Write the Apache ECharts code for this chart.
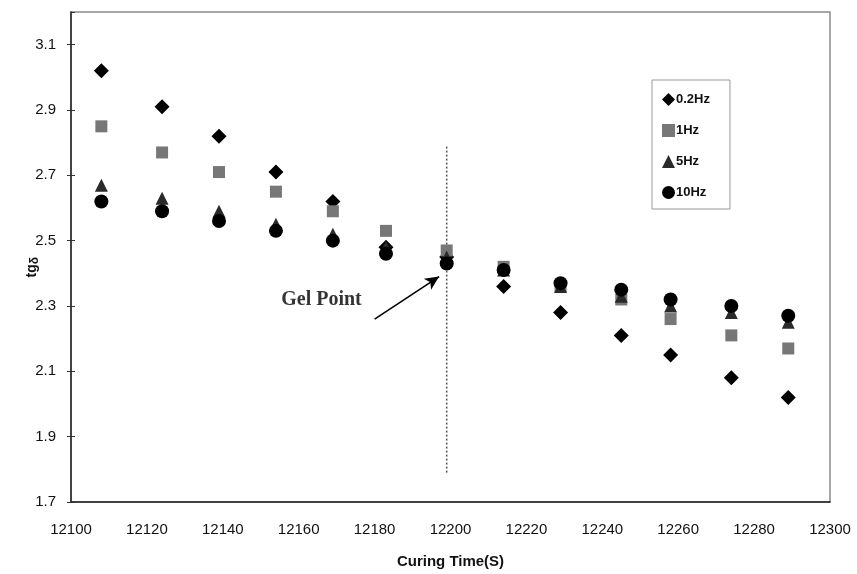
<!DOCTYPE html>
<html>
<head>
<meta charset="utf-8">
<script src="https://cdn.jsdelivr.net/npm/echarts@6/dist/echarts.min.js"></script>
<style>
  html, body { margin: 0; padding: 0; background: #fff; }
  #chart { width: 857px; height: 574px; }
</style>
</head>
<body>
<div id="chart"></div>
<script>
// Curing time (s) of each measurement
const curingTime = [12108, 12124, 12139, 12154, 12169, 12183, 12199, 12214, 12229, 12245, 12258, 12274, 12289];

// Loss tangent at each frequency
const tan02Hz = [3.02, 2.91, 2.82, 2.71, 2.62, 2.48, 2.45, 2.36, 2.28, 2.21, 2.15, 2.08, 2.02];
const tan1Hz  = [2.85, 2.77, 2.71, 2.65, 2.59, 2.53, 2.47, 2.42, 2.36, 2.32, 2.26, 2.21, 2.17];
const tan5Hz  = [2.67, 2.63, 2.59, 2.55, 2.52, 2.48, 2.45, 2.41, 2.36, 2.33, 2.30, 2.28, 2.25];
const tan10Hz = [2.62, 2.59, 2.56, 2.53, 2.50, 2.46, 2.43, 2.41, 2.37, 2.35, 2.32, 2.30, 2.27];

const seriesNames = ['0.2Hz', '1Hz', '5Hz', '10Hz'];
const yTicks = [1.7, 1.9, 2.1, 2.3, 2.5, 2.7, 2.9, 3.1];

// Gel point marker: vertical dotted line and pointing arrow
const gelTime = 12199;
const gelLineRange = [1.79, 2.79];
const gelArrowFrom = [12180, 2.26];
const gelArrowTo = [12197, 2.39];
const gelLabelAt = [12166, 2.32];

const pairs = arr => curingTime.map((t, i) => [t, arr[i]]);

const chart = echarts.init(document.getElementById('chart'), null, { renderer: 'canvas' });

const font = '"Liberation Sans", Arial, sans-serif';
const yLabelFmt = v => (yTicks.some(t => Math.abs(t - v) < 1e-6) ? v.toFixed(1) : '');

chart.setOption({
  animation: false,
  backgroundColor: '#fff',
  grid: { left: 71, right: 27, top: 12, bottom: 70, show: true, borderColor: '#8a8a8a', borderWidth: 1.5 },
  xAxis: {
    type: 'value', min: 12100, max: 12300, interval: 20,
    name: 'Curing Time(S)', nameLocation: 'middle', nameGap: 52,
    nameTextStyle: { fontFamily: font, fontSize: 15, fontWeight: 'bold', color: '#111' },
    axisLine: { lineStyle: { color: '#222', width: 1.5 } },
    axisTick: { show: false },
    splitLine: { show: false },
    axisLabel: { fontFamily: font, fontSize: 15, color: '#111', margin: 20, formatter: v => String(v) }
  },
  yAxis: [
    {
      type: 'value', min: 1.7, max: 3.2, interval: 0.2,
      axisLine: { lineStyle: { color: '#222', width: 1.5 } },
      axisTick: { show: true, inside: false, length: 4, lineStyle: { color: '#333' } },
      splitLine: { show: false },
      axisLabel: { fontFamily: font, fontSize: 15, color: '#111', margin: 15, showMaxLabel: false, formatter: yLabelFmt }
    },
    {
      // inner half of the cross-shaped tick marks
      type: 'value', min: 1.7, max: 3.2, interval: 0.2, position: 'left',
      axisLine: { show: false },
      axisTick: { show: true, inside: true, length: 4, lineStyle: { color: '#333' } },
      splitLine: { show: false },
      axisLabel: { show: false }
    }
  ],
  graphic: [
    {
      type: 'text', left: 25, top: 257,
      rotation: Math.PI / 2,
      style: {
        text: '{a|tg}{b|δ}',
        rich: {
          a: { fontFamily: font, fontSize: 14, fontWeight: 'bold', fill: '#111' },
          b: { fontFamily: font, fontSize: 12, fontWeight: 'bold', fill: '#111', padding: [5, 0, 0, 0] }
        }
      }
    }
  ],
  legend: {
    data: seriesNames,
    orient: 'vertical', left: 652, top: 80,
    itemWidth: 13, itemHeight: 13, itemGap: 18,
    padding: [13, 20, 10, 10],
    borderColor: '#999', borderWidth: 1,
    textStyle: { fontFamily: font, fontSize: 13, fontWeight: 'bold', color: '#111', padding: [0, 0, 0, -4] }
  },
  series: [
    {
      name: '0.2Hz', type: 'scatter', data: pairs(tan02Hz), z: 3,
      symbol: 'diamond', symbolSize: 15, itemStyle: { color: '#000', opacity: 1 }
    },
    {
      name: '1Hz', type: 'scatter', data: pairs(tan1Hz), z: 4,
      symbol: 'rect', symbolSize: 12, itemStyle: { color: '#777', opacity: 1 }
    },
    {
      name: '5Hz', type: 'scatter', data: pairs(tan5Hz), z: 5,
      symbol: 'triangle', symbolSize: 13, itemStyle: { color: '#2a2a2a', opacity: 1 }
    },
    {
      name: '10Hz', type: 'scatter', data: pairs(tan10Hz), z: 6,
      symbol: 'circle', symbolSize: 14, itemStyle: { color: '#000', opacity: 1 }
    },
    {
      name: 'gel', type: 'line', z: 2,
      data: gelLineRange.map(v => [gelTime, v]),
      symbol: 'none',
      lineStyle: { color: '#555', width: 1.5, type: [2, 2] },
      markLine: {
        silent: true, symbol: ['none', 'arrow'], symbolSize: [10, 14],
        lineStyle: { color: '#000', width: 1.6, type: 'solid' },
        label: { show: false },
        data: [[{ coord: gelArrowFrom }, { coord: gelArrowTo }]]
      }
    },
    {
      name: 'gelLabel', type: 'scatter', z: 7,
      data: [gelLabelAt], symbolSize: 0,
      label: {
        show: true, position: 'inside', formatter: 'Gel Point',
        fontFamily: '"Liberation Serif", "Times New Roman", serif',
        fontSize: 20, fontWeight: 'bold', color: '#000'
      }
    }
  ]
});
</script>
</body>
</html>
